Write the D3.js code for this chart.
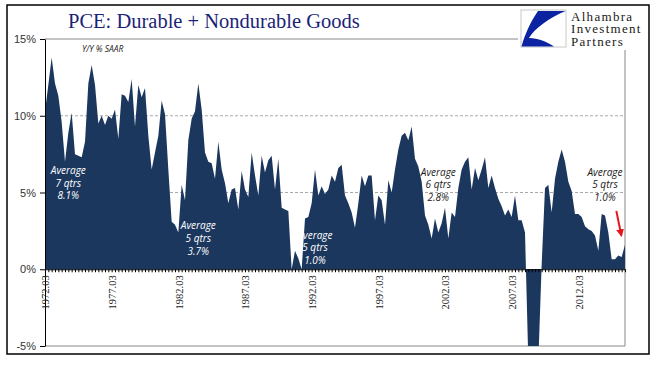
<html>

<head>
    <style>
        html,
        body {
            margin: 0;
            background-color: #ffffff;
        }

        svg {
            display: block;
        }

        .title {
            font-family: "Liberation Serif";
            font-size: 20.5px;
            fill: #1c1f78;
        }

        .logoText {
            font-family: "Liberation Serif";
            font-size: 13px;
            letter-spacing: 1.3px;
            fill: #1a1a1a;
        }

        .yAxis text {
            font-family: "Liberation Sans";
            font-size: 11px;
            fill: #333333;
        }

        .xAxis text {
            font-family: "Liberation Serif";
            font-size: 10.5px;
            fill: #222222;
        }

        .note {
            font-family: "Open Sans";
            font-style: italic;
            font-size: 10px;
        }
    </style>
</head>

<body>
    <div id="chart"></div>
</body>

</html>

<script src="https://d3js.org/d3.v7.min.js"></script>

<script>
    // y/y % change, quarterly, starting 1972.03
    var firstYear = 1972;
    var values = [
        10.3, 12.0, 13.8, 12.1, 11.3, 9.6, 7.0, 8.9, 10.2, 7.5,
        7.4, 7.3, 8.3, 12.1, 13.3, 12.0, 9.5, 10.0, 9.4, 10.0,
        9.8, 10.4, 8.5, 11.4, 11.3, 10.9, 12.4, 9.3, 12.0, 11.2,
        11.8, 8.7, 6.5, 7.6, 8.7, 11.0, 10.1, 6.5, 3.1, 2.9,
        2.4, 5.5, 4.5, 8.4, 9.8, 10.3, 12.1, 10.4, 7.6, 7.0,
        6.9, 5.9, 8.3, 6.5, 5.6, 4.3, 5.2, 5.3, 3.9, 6.4,
        5.2, 4.7, 7.6, 6.1, 4.8, 7.4, 6.3, 7.1, 7.4, 5.2,
        7.2, 4.0, 3.9, 3.8, 0.0, 1.2, 0.7, 0.0, 3.3, 3.4,
        4.3, 6.5, 4.8, 5.4, 4.9, 5.2, 6.1, 5.7, 6.6, 6.8,
        4.8, 4.3, 3.7, 2.7, 4.3, 6.1, 5.4, 6.1, 6.1, 3.2,
        4.8, 4.5, 2.9, 5.8, 5.0, 6.5, 7.8, 8.7, 8.9, 8.4,
        9.3, 7.2, 6.7, 5.7, 3.5, 2.9, 2.0, 3.3, 2.4, 3.0,
        4.0, 2.0, 3.7, 3.4, 5.3, 6.5, 7.0, 7.3, 5.2, 6.6,
        5.8, 6.5, 7.3, 5.3, 6.1, 5.3, 4.6, 4.1, 3.5, 3.9,
        3.4, 4.8, 3.2, 3.2, 2.4, -6.0, -6.5, -6.5, -6.0, 0.3,
        5.3, 5.5, 3.7, 5.9, 7.0, 7.8, 7.0, 5.7, 5.1, 3.6,
        3.6, 3.4, 2.8, 2.6, 2.5, 2.2, 1.2, 3.6, 3.5, 2.4,
        0.65, 0.65, 0.9, 0.8, 1.6
    ];

    var tickLabels = ["1972.03", "1977.03", "1982.03", "1987.03", "1992.03",
        "1997.03", "2002.03", "2007.03", "2012.03"];
    var yTicks = [-5, 0, 5, 10, 15];

    var noteLines = [
        ["Average", "7 qtrs", "8.1%"],
        ["Average", "5 qtrs", "3.7%"],
        ["Average", "5 qtrs", "1.0%"],
        ["Average", "6 qtrs", "2.8%"],
        ["Average", "5 qtrs", "1.0%"]
    ];
    // where each note sits: quarter label and value of its first line
    var noteAnchor = [["1973.12", 6.2], ["1983.09", 2.6], ["1992.06", 2.0], ["2001.09", 6.1], ["2014.03", 6.1]];
    var noteColor = ["#ffffff", "#ffffff", "#ffffff", "#1a1a1a", "#1a1a1a"];

    // quarter categories
    var months = ["03", "06", "09", "12"];
    var quarters = values.map(function (d, i) {
        return (firstYear + Math.floor(i / 4)) + "." + months[i % 4];
    });
    var data = values.map(function (d, i) { return { q: quarters[i], v: d }; });

    var width = 658,
        height = 375,
        plotLeft = 45,
        plotRight = 625,
        plotTop = 39,
        plotBottom = 346;

    var svg = d3.select("#chart").append("svg")
        .attr("width", width)
        .attr("height", height);

    // outer frame
    svg.append("rect")
        .attr("x", 7).attr("y", 5)
        .attr("width", 642).attr("height", 349)
        .attr("fill", "none")
        .attr("stroke", "#000")
        .attr("stroke-width", 1.5);

    // scaling
    var xscale = d3.scalePoint()
        .domain(quarters)
        .range([plotLeft, plotRight]);

    var yscale = d3.scaleLinear()
        .domain([-5, 15])
        .range([plotBottom, plotTop]);

    // gridlines
    svg.selectAll(".grid")
        .data([5, 10])
        .enter().append("line")
        .attr("x1", plotLeft).attr("x2", plotRight)
        .attr("y1", d => yscale(d)).attr("y2", d => yscale(d))
        .attr("stroke", "#a8a8a8")
        .attr("stroke-dasharray", "3,2");

    // plot frame lines
    svg.append("line")
        .attr("x1", plotLeft).attr("x2", 518)
        .attr("y1", yscale(15)).attr("y2", yscale(15))
        .attr("stroke", "#888");
    svg.append("line")
        .attr("x1", plotRight).attr("x2", plotRight)
        .attr("y1", 50).attr("y2", yscale(-5))
        .attr("stroke", "#888");
    svg.append("line")
        .attr("x1", plotLeft).attr("x2", plotRight)
        .attr("y1", yscale(-5)).attr("y2", yscale(-5))
        .attr("stroke", "#888");

    // clip area to plot
    svg.append("clipPath")
        .attr("id", "plotClip")
        .append("rect")
        .attr("x", plotLeft).attr("y", plotTop)
        .attr("width", plotRight - plotLeft).attr("height", plotBottom - plotTop);

    var area = d3.area()
        .x(d => xscale(d.q))
        .y0(yscale(0))
        .y1(d => yscale(d.v));

    svg.append("path")
        .datum(data)
        .attr("clip-path", "url(#plotClip)")
        .attr("fill", "#1c375e")
        .attr("d", area);

    // Add Y axis
    var y_axis = d3.axisLeft(yscale)
        .tickValues(yTicks)
        .tickSize(5)
        .tickSizeOuter(0)
        .tickFormat(d => d + "%");
    svg.append("g")
        .attr("class", "yAxis")
        .attr("transform", "translate(" + plotLeft + ",0)")
        .call(y_axis)
        .call(g => g.selectAll("line,path").attr("stroke", "#000"))
        .selectAll("text")
        .attr("x", -9);

    // Add X axis on the zero line
    var x_axis = d3.axisBottom(xscale)
        .tickSize(3)
        .tickSizeOuter(0)
        .tickPadding(6)
        .tickFormat(d => tickLabels.indexOf(d) >= 0 ? d : "");
    svg.append("g")
        .attr("class", "xAxis")
        .attr("transform", "translate(0," + yscale(0) + ")")
        .call(x_axis)
        .call(g => g.selectAll("line,path").attr("stroke", "#000"))
        .selectAll("text")
        .style("text-anchor", "end")
        .attr("x", -6)
        .attr("y", 0)
        .attr("dy", "0.35em")
        .attr("transform", "rotate(-90)");

    // title
    svg.append("text")
        .attr("class", "title")
        .attr("x", 68)
        .attr("y", 28)
        .text("PCE: Durable + Nondurable Goods");

    svg.append("text")
        .attr("x", 82)
        .attr("y", 52)
        .style("font-family", "Open Sans")
        .style("font-style", "italic")
        .style("font-size", "8.5px")
        .attr("fill", "#222")
        .text("Y/Y % SAAR");

    // logo
    var logo = svg.append("g");
    logo.append("rect")
        .attr("x", 521).attr("y", 10)
        .attr("width", 45).attr("height", 37)
        .attr("fill", "#fff")
        .attr("stroke", "#c8c8c8");
    logo.append("path")
        .attr("fill", "#0b23a0")
        .attr("d", "M538,11 L565.5,11 C549,18 535,28 529,38 C538,38 547,42 554,46.5 L521.5,46.5 C525,34 531,21 538,11 Z");
    logo.selectAll(".logoText")
        .data(["Alhambra", "Investment", "Partners"])
        .enter().append("text")
        .attr("class", "logoText")
        .attr("x", 571)
        .attr("y", (d, i) => 20.5 + i * 12.6)
        .text(d => d);

    // notes
    noteLines.forEach(function (lines, k) {
        svg.append("text")
            .attr("class", "note")
            .attr("text-anchor", "middle")
            .attr("fill", noteColor[k])
            .selectAll("tspan")
            .data(lines)
            .enter().append("tspan")
            .attr("x", xscale(noteAnchor[k][0]))
            .attr("y", (d, i) => yscale(noteAnchor[k][1]) + i * 12.7)
            .text(d => d);
    });

    // red arrow
    svg.append("defs").append("marker")
        .attr("id", "head")
        .attr("viewBox", "0 0 10 10")
        .attr("refX", 8).attr("refY", 5)
        .attr("markerWidth", 4).attr("markerHeight", 4)
        .attr("orient", "auto")
        .append("path")
        .attr("d", "M0,0 L10,5 L0,10 Z")
        .attr("fill", "#e8141c");

    svg.append("line")
        .attr("x1", xscale("2015.03") - 2).attr("y1", yscale(3.8))
        .attr("x2", xscale("2015.03") + 3).attr("y2", yscale(2.2))
        .attr("stroke", "#e8141c")
        .attr("stroke-width", 2)
        .attr("marker-end", "url(#head)");
</script>
